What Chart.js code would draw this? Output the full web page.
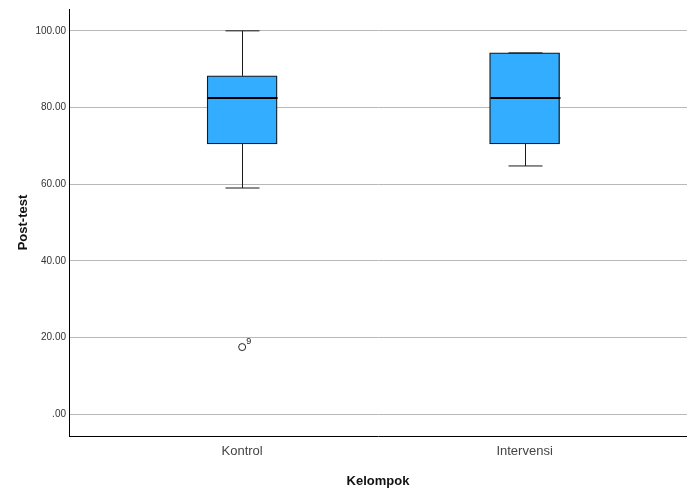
<!DOCTYPE html>
<html>
<head>
<meta charset="utf-8">
<script src="https://cdn.jsdelivr.net/npm/chart.js@4/dist/chart.umd.min.js"></script>
<style>
  html, body { margin: 0; padding: 0; background: #fff; }
  #wrap { width: 687px; height: 491px; }
</style>
</head>
<body>
<div id="wrap"><canvas id="box-chart"></canvas></div>
<script>
// Data
const groups = ['Kontrol', 'Intervensi'];
const minWhisker = [59.0, 64.75];
const q1 = [70.5, 70.5];
const median = [82.5, 82.5];
const q3 = [88.25, 94.25];
const maxWhisker = [100.0, 94.25];
const outlierGroup = [0];
const outlierValue = [17.5];
const outlierLabel = ['9'];
const yTicks = [0, 20, 40, 60, 80, 100];

const boxFill = '#33adff';
const edge = '#1a1a1a';

// whiskers, caps, medians and the outlier case number
const boxExtras = {
    id: 'boxExtras',
    afterDatasetsDraw(chart) {
        const { ctx, scales: { x, y } } = chart;
        ctx.save();
        groups.forEach((g, i) => {
            const cx = Math.round(x.getPixelForValue(i)) + 0.5;
            const capHalf = 17;
            const boxHalf = 35;
            ctx.strokeStyle = edge;
            ctx.lineWidth = 1;
            // upper whisker
            if (maxWhisker[i] > q3[i]) {
                ctx.beginPath();
                ctx.moveTo(cx, y.getPixelForValue(q3[i]));
                ctx.lineTo(cx, y.getPixelForValue(maxWhisker[i]));
                ctx.stroke();
            }
            ctx.beginPath();
            ctx.moveTo(cx - capHalf, y.getPixelForValue(maxWhisker[i]));
            ctx.lineTo(cx + capHalf, y.getPixelForValue(maxWhisker[i]));
            ctx.stroke();
            // lower whisker
            ctx.beginPath();
            ctx.moveTo(cx, y.getPixelForValue(q1[i]));
            ctx.lineTo(cx, y.getPixelForValue(minWhisker[i]));
            ctx.stroke();
            ctx.beginPath();
            ctx.moveTo(cx - capHalf, y.getPixelForValue(minWhisker[i]));
            ctx.lineTo(cx + capHalf, y.getPixelForValue(minWhisker[i]));
            ctx.stroke();
            // median
            ctx.lineWidth = 2;
            ctx.strokeStyle = '#000';
            ctx.beginPath();
            ctx.moveTo(cx - boxHalf, y.getPixelForValue(median[i]));
            ctx.lineTo(cx + boxHalf, y.getPixelForValue(median[i]));
            ctx.stroke();
        });
        ctx.fillStyle = '#222';
        ctx.font = '9px "Liberation Sans", Arial, sans-serif';
        ctx.textBaseline = 'bottom';
        outlierValue.forEach((v, k) => {
            ctx.fillText(outlierLabel[k], x.getPixelForValue(outlierGroup[k]) + 4, y.getPixelForValue(v) - 1);
        });
        ctx.restore();
    }
};

const ctx = document.getElementById('box-chart').getContext('2d');
new Chart(ctx, {
    type: 'bar',
    data: {
        datasets: [
            {
                type: 'bar',
                data: groups.map((g, i) => ({ x: i, y: [q1[i], q3[i]] })),
                backgroundColor: boxFill,
                borderColor: edge,
                borderWidth: 1.3,
                borderSkipped: false,
                barThickness: 70
            },
            {
                type: 'scatter',
                data: outlierValue.map((v, k) => ({ x: outlierGroup[k], y: v })),
                pointStyle: 'circle',
                pointRadius: 3.5,
                backgroundColor: '#fff',
                borderColor: '#222',
                borderWidth: 1
            }
        ]
    },
    options: {
        responsive: true,
        maintainAspectRatio: false,
        animation: false,
        layout: { autoPadding: false, padding: { top: 9, right: 0, left: 0, bottom: 0 } },
        plugins: {
            legend: { display: false },
            tooltip: { enabled: false }
        },
        scales: {
            x: {
                type: 'linear',
                offset: false,
                min: -0.613,
                max: 1.575,
                afterBuildTicks: (axis) => { axis.ticks = groups.map((g, i) => ({ value: i })); },
                afterFit: (axis) => { axis.height = 55; },
                grid: { display: false, drawTicks: false },
                border: { color: '#000', width: 1 },
                ticks: {
                    padding: 8,
                    color: '#444',
                    font: { family: '"Liberation Sans", Arial, sans-serif', size: 13 },
                    callback: (v) => groups[v]
                },
                title: {
                    display: true,
                    text: 'Kelompok',
                    color: '#111',
                    font: { family: '"Liberation Sans", Arial, sans-serif', size: 13, weight: 'bold' },
                    padding: { top: 0, bottom: 2 }
                }
            },
            y: {
                min: -5.7,
                max: 105.7,
                afterBuildTicks: (axis) => { axis.ticks = yTicks.map(v => ({ value: v })); },
                afterFit: (axis) => { axis.width = 69; },
                grid: { color: '#b8b8b8', drawTicks: false },
                border: { color: '#000', width: 1 },
                ticks: {
                    padding: 3,
                    color: '#333',
                    font: { family: '"Liberation Sans", Arial, sans-serif', size: 10 },
                    callback: (v) => v === 0 ? '.00' : v.toFixed(2)
                },
                title: {
                    display: true,
                    text: 'Post-test',
                    color: '#111',
                    font: { family: '"Liberation Sans", Arial, sans-serif', size: 13, weight: 'bold' },
                    padding: { top: 16, bottom: 0 }
                }
            }
        }
    },
    plugins: [boxExtras]
});
</script>
</body>
</html>
